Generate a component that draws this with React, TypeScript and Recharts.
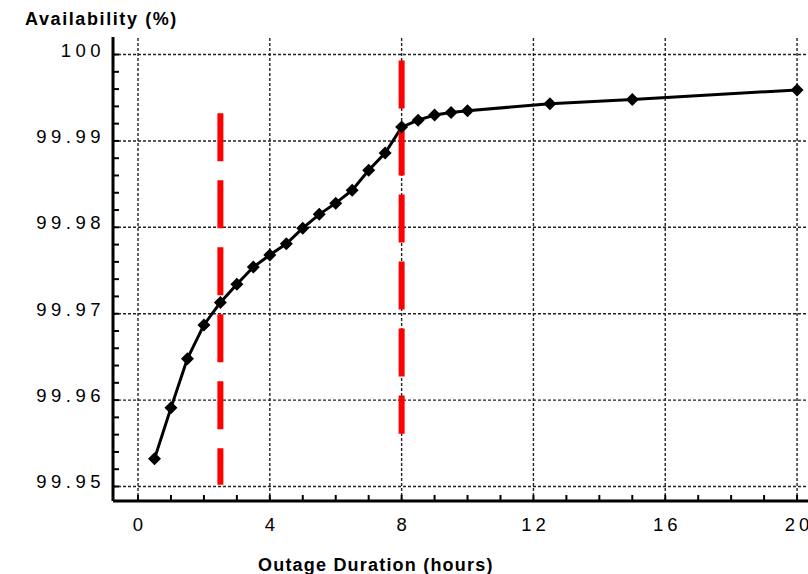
import { LineChart, Line, XAxis, YAxis, ReferenceLine } from "recharts";

// outage duration (hours) and resulting availability (%)
const hours = [0.5, 1, 1.5, 2, 2.5, 3, 3.5, 4, 4.5, 5, 5.5, 6, 6.5, 7, 7.5, 8, 8.5, 9, 9.5, 10, 12.5, 15, 20];
const availability = [
  99.9532, 99.9591, 99.9648, 99.9687, 99.9713, 99.9734, 99.9754, 99.9768, 99.9781, 99.9799,
  99.9815, 99.9828, 99.9843, 99.9866, 99.9886, 99.9916, 99.9924, 99.993, 99.9933, 99.9935,
  99.9943, 99.9948, 99.9959,
];

const xMajorTicks = [0, 4, 8, 12, 16, 20];
const xMinorTicks = [0, 1, 2, 3, 4, 5, 6, 7, 8, 9, 10, 11, 12, 13, 14, 15, 16, 17, 18, 19, 20];
const yMajorTicks = [99.95, 99.96, 99.97, 99.98, 99.99, 100];
const yLabels = ["99.95", "99.96", "99.97", "99.98", "99.99", "100"];
const yMinorTicks = [
  99.95, 99.952, 99.954, 99.956, 99.958, 99.96, 99.962, 99.964, 99.966, 99.968, 99.97, 99.972, 99.974,
  99.976, 99.978, 99.98, 99.982, 99.984, 99.986, 99.988, 99.99, 99.992, 99.994, 99.996, 99.998, 100,
];

// red dashed markers (hours, top, bottom)
const markerHours = [2.5, 8];
const markerTop = [99.9932, 99.9993];
const markerBottom = [99.9502, 99.9561];

const data = hours.map((h, i) => ({ h, a: availability[i] }));

const X_DOMAIN = [-0.759, 21];
const Y_DOMAIN = [99.94832, 100.00203];
const tickFont = "'Liberation Sans', Arial, sans-serif";

const isMajor = (v: number, list: number[]) => list.findIndex((m) => Math.abs(m - v) < 1e-6);

const Diamond = (props: any) => {
  const { cx, cy, index } = props;
  if (cx == null || cy == null) return null;
  const r = 6.5;
  return (
    <polygon
      key={`d-${index}`}
      points={`${cx},${cy - r} ${cx + r},${cy} ${cx},${cy + r} ${cx - r},${cy}`}
      fill="#000"
    />
  );
};

const YTick = (props: any) => {
  const { x, y, payload } = props;
  const idx = isMajor(payload.value, yMajorTicks);
  return (
    <g>
      <line x1={x} x2={x + 6} y1={y} y2={y} stroke="#000" strokeWidth={2} />
      {idx >= 0 && (
        <text x={x - 8} y={y + 2} textAnchor="end" fontSize={18.5} letterSpacing={4.5} fill="#000" fontFamily={tickFont}>
          {yLabels[idx]}
        </text>
      )}
    </g>
  );
};

const XTick = (props: any) => {
  const { x, y, payload } = props;
  const major = isMajor(payload.value, xMajorTicks) >= 0;
  return (
    <g>
      <line x1={x} x2={x} y1={y} y2={y - 6} stroke="#000" strokeWidth={2} />
      {major && (
        <text x={x + 2} y={y + 30} textAnchor="middle" fontSize={18.5} letterSpacing={4} fill="#000" fontFamily={tickFont}>
          {payload.value}
        </text>
      )}
    </g>
  );
};

const TopTick = (props: any) => {
  const { x, y } = props;
  return <line x1={x} x2={x} y1={y} y2={y + 5} stroke="#000" strokeWidth={2} />;
};

export default function App() {
  return (
    <div
      style={{
        position: "absolute",
        left: 0,
        top: 0,
        width: 808,
        height: 574,
        overflow: "hidden",
        background: "#fff",
        fontFamily: tickFont,
      }}
    >
      <div
        style={{
          position: "absolute",
          left: 25,
          top: 9,
          fontSize: 18,
          fontWeight: 700,
          letterSpacing: 1.6,
          color: "#000",
          whiteSpace: "nowrap",
        }}
      >
        Availability (%)
      </div>
      <div
        style={{
          position: "absolute",
          left: 258,
          top: 555,
          fontSize: 18,
          fontWeight: 700,
          letterSpacing: 1.2,
          color: "#000",
          whiteSpace: "nowrap",
        }}
      >
        Outage Duration (hours)
      </div>
      <LineChart width={840} height={574} data={data} margin={{ top: 37, right: 10, bottom: 0, left: 0 }}>
        <XAxis
          dataKey="h"
          type="number"
          domain={X_DOMAIN}
          allowDataOverflow
          ticks={xMinorTicks}
          interval={0}
          height={73}
          tickSize={0}
          tickMargin={0}
          tickLine={false}
          tick={<XTick />}
          axisLine={{ stroke: "#000", strokeWidth: 3 }}
        />
        <XAxis
          xAxisId="top"
          orientation="top"
          type="number"
          domain={X_DOMAIN}
          allowDataOverflow
          ticks={xMinorTicks}
          interval={0}
          height={0}
          tickSize={0}
          tickMargin={0}
          tickLine={false}
          tick={<TopTick />}
          axisLine={{ stroke: "#000", strokeWidth: 2 }}
        />
        <YAxis
          type="number"
          domain={Y_DOMAIN}
          allowDataOverflow
          ticks={yMinorTicks}
          interval={0}
          width={113}
          tickSize={0}
          tickMargin={0}
          tickLine={false}
          tick={<YTick />}
          axisLine={{ stroke: "#000", strokeWidth: 3 }}
        />
        {yMajorTicks.map((v) => (
          <ReferenceLine key={`gy-${v}`} y={v} stroke="#222" strokeWidth={1.4} strokeDasharray="3 2" />
        ))}
        {xMajorTicks.map((v) => (
          <ReferenceLine key={`gx-${v}`} x={v} stroke="#222" strokeWidth={1.4} strokeDasharray="3 2" />
        ))}
        <Line
          dataKey="a"
          stroke="#000"
          strokeWidth={3}
          dot={Diamond}
          activeDot={false}
          isAnimationActive={false}
        />
        {markerHours.map((h, i) => (
          <ReferenceLine
            key={`m-${h}`}
            segment={[
              { x: h, y: markerTop[i] },
              { x: h, y: markerBottom[i] },
            ]}
            stroke="#ff0000"
            strokeWidth={6}
            strokeDasharray="48 19"
          />
        ))}
      </LineChart>
    </div>
  );
}
